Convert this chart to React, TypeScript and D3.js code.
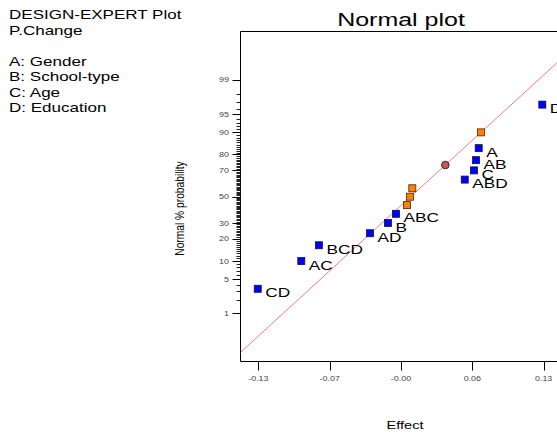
import React from "react";
import * as d3 from "d3";

// ---- data ----
const headerLines = ["DESIGN-EXPERT Plot", "P.Change"];
const factorLines = ["A: Gender", "B: School-type", "C: Age", "D: Education"];

const effectLabels = ["CD", "AC", "BCD", "AD", "B", "ABC", "", "", "", "ABD", "C", "AB", "A", "", "D"];
const effectValues = [-0.1311, -0.0914, -0.0753, -0.0288, -0.0124, -0.0051, 0.005, 0.0077, 0.0098, 0.0576, 0.066, 0.0679, 0.0703, 0.0724, 0.1283];
const effectProbabilities = [3.33, 10, 16.67, 23.33, 30, 36.67, 43.33, 50, 56.67, 63.33, 70, 76.67, 83.33, 90, 96.67];
const effectKinds = ["model", "model", "model", "model", "model", "model", "error", "error", "error", "model", "model", "model", "model", "error", "model"];

const curvatureEffect = 0.0399;
const curvatureProb = 73.6;

const lineMean = 0.0083;
const lineSd = 0.05;

const xTickValues = [-0.1305, -0.0655, -0.0005, 0.0645, 0.1295];
const xTickLabels = ["-0.13", "-0.07", "-0.00", "0.06", "0.13"];
const yMajorTicks = [1, 5, 10, 20, 30, 50, 70, 80, 90, 95, 99];
const yMinorTicks = d3.range(1, 100);

// inverse normal CDF (Acklam)
function probit(p: number): number {
  const a = [-3.969683028665376e1, 2.209460984245205e2, -2.759285104469687e2, 1.38357751867269e2, -3.066479806614716e1, 2.506628277459239];
  const b = [-5.447609879822406e1, 1.615858368580409e2, -1.556989798598866e2, 6.680131188771972e1, -1.328068155288572e1];
  const c = [-7.784894002430293e-3, -3.223964580411365e-1, -2.400758277161838, -2.549732539343734, 4.374664141464968, 2.938163982698783];
  const d = [7.784695709041462e-3, 3.224671290700398e-1, 2.445134137142996, 3.754408661907416];
  const plow = 0.02425, phigh = 1 - plow;
  let q, r;
  if (p < plow) {
    q = Math.sqrt(-2 * Math.log(p));
    return (((((c[0] * q + c[1]) * q + c[2]) * q + c[3]) * q + c[4]) * q + c[5]) / ((((d[0] * q + d[1]) * q + d[2]) * q + d[3]) * q + 1);
  }
  if (p <= phigh) {
    q = p - 0.5;
    r = q * q;
    return ((((((a[0] * r + a[1]) * r + a[2]) * r + a[3]) * r + a[4]) * r + a[5]) * q) / (((((b[0] * r + b[1]) * r + b[2]) * r + b[3]) * r + b[4]) * r + 1);
  }
  q = Math.sqrt(-2 * Math.log(1 - p));
  return -(((((c[0] * q + c[1]) * q + c[2]) * q + c[3]) * q + c[4]) * q + c[5]) / ((((d[0] * q + d[1]) * q + d[2]) * q + d[3]) * q + 1);
}

const FONT = "'Liberation Sans', Arial, Helvetica, sans-serif";

const SText = ({ x, y, size, stretch = 1, anchor = "start", fill = "#000", rotate = 0, children }: any) => (
  <text
    transform={`translate(${x},${y}) rotate(${rotate}) scale(${stretch},1)`}
    fontSize={size}
    fontFamily={FONT}
    textAnchor={anchor}
    fill={fill}
  >
    {children}
  </text>
);

export default function App() {
  const W = 557, H = 432;
  const left = 240.5, top = 31.5, bottom = 361.5, right = 620;
  const x = d3.scaleLinear().domain([-0.1468, 0.1991]).range([left, right]);
  const y = d3.scaleLinear().domain([-3.283, 3.291]).range([bottom, top]);
  const yp = (p: number) => y(probit(p / 100));

  const zLow = -3.283, zHigh = 3.291;
  const lineData = [x.domain()[0], x.domain()[1]].map((v) => [v, (v - lineMean) / lineSd]);
  const lineGen = d3.line<number[]>().x((d) => x(d[0])).y((d) => y(d[1]));

  const tickColor = "#444";

  return (
    <svg width={W} height={H} style={{ position: "absolute", left: 0, top: 0, background: "#fff" }}>
      <defs>
        <clipPath id="plotclip">
          <rect x={left} y={top} width={right - left} height={bottom - top} />
        </clipPath>
      </defs>
      {/* header text */}
      {headerLines.map((t, i) => (
        <SText key={t} x={9} y={19.3 + i * 15.4} size={12} stretch={1.42}>{t}</SText>
      ))}
      {factorLines.map((t, i) => (
        <SText key={t} x={9} y={65.7 + i * 15.4} size={12} stretch={1.42}>{t}</SText>
      ))}

      {/* title */}
      <SText x={401} y={26} size={18.5} stretch={1.35} anchor="middle">Normal plot</SText>

      {/* frame */}
      <path d={`M${right},${top}H${left}V${bottom}H${right}`} fill="none" stroke="#000" strokeWidth={1} />

      {/* y ticks */}
      {yMinorTicks.map((p) => (
        <line key={"m" + p} x1={left - 4} x2={left} y1={Math.round(yp(p)) + 0.5} y2={Math.round(yp(p)) + 0.5} stroke="#222" strokeWidth={1} />
      ))}
      {yMajorTicks.map((p) => (
        <g key={"M" + p}>
          <line x1={left - 8} x2={left} y1={Math.round(yp(p)) + 0.5} y2={Math.round(yp(p)) + 0.5} stroke="#000" strokeWidth={1} />
          <SText x={229} y={yp(p) + 2.5} size={7} stretch={1.28} anchor="end" fill={tickColor}>{String(p)}</SText>
        </g>
      ))}

      {/* x ticks */}
      {xTickValues.map((v, i) => (
        <g key={"x" + i}>
          <line x1={Math.round(x(v)) + 0.5} x2={Math.round(x(v)) + 0.5} y1={bottom} y2={bottom + 9} stroke="#000" strokeWidth={1} />
          <SText x={x(v)} y={380.5} size={7} stretch={1.28} anchor="middle" fill={tickColor}>{xTickLabels[i]}</SText>
        </g>
      ))}

      {/* axis titles */}
      <SText x={405} y={429} size={11.5} stretch={1.27} anchor="middle">Effect</SText>
      <SText x={184} y={208.5} size={12.5} stretch={0.82} anchor="middle" rotate={-90}>Normal % probability</SText>

      {/* fit line */}
      <path d={lineGen(lineData) || ""} clipPath="url(#plotclip)" fill="none" stroke="#f47c7c" strokeWidth={1} />

      {/* points */}
      {effectValues.map((v, i) => {
        const cx = x(v), cy = yp(effectProbabilities[i]);
        const isModel = effectKinds[i] === "model";
        return (
          <g key={"p" + i}>
            <rect x={cx - 3.5} y={cy - 3.5} width={7} height={7}
              fill={isModel ? "#0000ff" : "#ff8000"}
              stroke={isModel ? "#101040" : "#4a2400"} strokeWidth={0.8} />
            {effectLabels[i] && (
              <SText x={cx + 7.5} y={cy + 8.5} size={13.5} stretch={1.28}>{effectLabels[i]}</SText>
            )}
          </g>
        );
      })}
      <circle cx={x(curvatureEffect)} cy={yp(curvatureProb)} r={3.8} fill="#c05a5a" stroke="#3a1010" strokeWidth={0.9} />
    </svg>
  );
}
